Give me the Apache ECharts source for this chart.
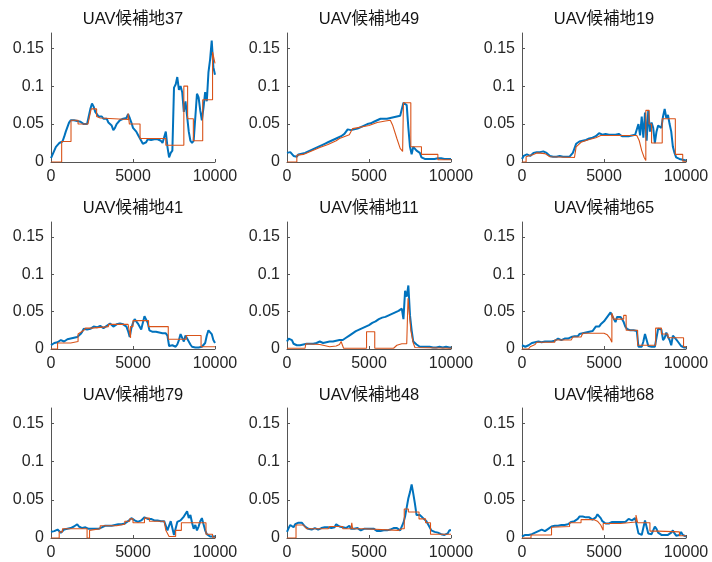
<!DOCTYPE html>
<html>
<head>
<meta charset="utf-8">
<script src="https://cdn.jsdelivr.net/npm/echarts@6/dist/echarts.min.js"></script>
<style>
  html, body { margin: 0; padding: 0; background: #fff; }
  #chart { width: 712px; height: 562px; }
</style>
</head>
<body>
<div id="chart"></div>
<script>
// Panel titles, in row order
const titles = ['UAV候補地37', 'UAV候補地49', 'UAV候補地19',
                'UAV候補地41', 'UAV候補地11', 'UAV候補地65',
                'UAV候補地79', 'UAV候補地48', 'UAV候補地68'];

const xTicks = [0, 5000, 10000];
const yTicks = [0, 0.05, 0.1, 0.15];
const sampleStep = 100; // measured series: one value every 100 steps, 0..10000

// Measured values (blue)
const meas37 = [0.005,0.010,0.015,0.020,0.022,0.025,0.025,0.027,0.033,0.040,0.046,0.052,0.055,0.057,0.055,0.057,0.054,0.056,0.053,0.052,0.050,0.048,0.050,0.060,0.070,0.077,0.073,0.066,0.063,0.060,0.058,0.060,0.057,0.055,0.057,0.052,0.053,0.048,0.042,0.045,0.050,0.052,0.055,0.053,0.057,0.055,0.058,0.063,0.058,0.052,0.045,0.043,0.040,0.036,0.032,0.028,0.024,0.022,0.026,0.030,0.032,0.029,0.031,0.030,0.031,0.030,0.029,0.028,0.025,0.023,0.040,0.020,0.006,0.012,0.015,0.098,0.102,0.112,0.095,0.100,0.092,0.066,0.080,0.060,0.040,0.028,0.025,0.028,0.026,0.090,0.085,0.068,0.055,0.072,0.092,0.080,0.118,0.135,0.160,0.125,0.115];
const meas49 = [0.012,0.013,0.013,0.011,0.008,0.006,0.007,0.010,0.010,0.011,0.011,0.012,0.013,0.014,0.015,0.016,0.017,0.018,0.019,0.020,0.021,0.022,0.023,0.024,0.025,0.026,0.027,0.028,0.029,0.030,0.031,0.032,0.033,0.034,0.035,0.037,0.040,0.043,0.045,0.042,0.042,0.043,0.044,0.044,0.045,0.046,0.047,0.048,0.049,0.050,0.050,0.051,0.052,0.053,0.054,0.055,0.056,0.057,0.056,0.057,0.056,0.057,0.057,0.058,0.058,0.059,0.060,0.060,0.061,0.061,0.062,0.078,0.077,0.075,0.045,0.020,0.010,0.020,0.018,0.015,0.017,0.012,0.006,0.005,0.004,0.005,0.004,0.005,0.004,0.005,0.004,0.004,0.005,0.004,0.005,0.004,0.004,0.005,0.004,0.004,0.004];
const meas19 = [0.004,0.008,0.010,0.010,0.009,0.008,0.009,0.012,0.014,0.013,0.015,0.013,0.012,0.014,0.015,0.012,0.010,0.008,0.007,0.007,0.008,0.007,0.007,0.008,0.007,0.007,0.006,0.007,0.006,0.007,0.008,0.012,0.018,0.024,0.026,0.027,0.029,0.028,0.030,0.029,0.030,0.031,0.030,0.032,0.033,0.034,0.036,0.038,0.037,0.036,0.035,0.037,0.038,0.036,0.035,0.036,0.035,0.036,0.035,0.037,0.036,0.034,0.035,0.034,0.035,0.034,0.035,0.035,0.034,0.036,0.035,0.050,0.035,0.060,0.032,0.065,0.028,0.068,0.040,0.052,0.045,0.025,0.040,0.048,0.050,0.045,0.060,0.070,0.058,0.062,0.050,0.040,0.020,0.012,0.006,0.005,0.004,0.003,0.003,0.002,0.002];
const meas41 = [0.005,0.006,0.008,0.010,0.009,0.011,0.012,0.011,0.010,0.012,0.013,0.012,0.014,0.013,0.015,0.014,0.016,0.018,0.020,0.023,0.027,0.028,0.026,0.025,0.027,0.029,0.030,0.031,0.029,0.030,0.031,0.029,0.028,0.030,0.031,0.032,0.034,0.033,0.030,0.031,0.033,0.035,0.034,0.036,0.033,0.032,0.030,0.024,0.016,0.028,0.035,0.040,0.037,0.034,0.030,0.026,0.035,0.044,0.043,0.035,0.025,0.024,0.023,0.022,0.023,0.022,0.022,0.022,0.021,0.022,0.021,0.018,0.004,0.003,0.005,0.004,0.003,0.006,0.012,0.020,0.019,0.010,0.018,0.020,0.010,0.006,0.003,0.002,0.002,0.003,0.002,0.002,0.003,0.004,0.008,0.018,0.025,0.024,0.020,0.012,0.008];
const meas11 = [0.010,0.014,0.015,0.012,0.007,0.006,0.005,0.006,0.005,0.005,0.006,0.006,0.007,0.007,0.007,0.008,0.007,0.008,0.008,0.009,0.010,0.008,0.008,0.009,0.009,0.009,0.010,0.010,0.010,0.011,0.011,0.012,0.012,0.012,0.012,0.013,0.015,0.017,0.018,0.020,0.021,0.023,0.024,0.025,0.026,0.027,0.028,0.029,0.030,0.031,0.032,0.034,0.035,0.036,0.037,0.038,0.040,0.041,0.042,0.043,0.043,0.044,0.045,0.046,0.047,0.048,0.049,0.050,0.051,0.053,0.054,0.040,0.078,0.070,0.085,0.045,0.025,0.010,0.012,0.006,0.004,0.003,0.003,0.003,0.002,0.003,0.002,0.003,0.002,0.002,0.003,0.002,0.002,0.003,0.002,0.002,0.002,0.003,0.002,0.002,0.002];
const meas65 = [0.005,0.004,0.003,0.004,0.005,0.006,0.008,0.008,0.009,0.010,0.010,0.009,0.009,0.010,0.010,0.009,0.010,0.011,0.010,0.011,0.011,0.012,0.014,0.013,0.012,0.013,0.014,0.013,0.014,0.015,0.016,0.015,0.017,0.018,0.017,0.020,0.022,0.021,0.020,0.022,0.021,0.023,0.025,0.024,0.027,0.030,0.031,0.030,0.033,0.035,0.037,0.040,0.043,0.046,0.049,0.050,0.040,0.036,0.043,0.045,0.043,0.040,0.036,0.030,0.027,0.025,0.025,0.024,0.025,0.026,0.024,0.003,0.002,0.003,0.010,0.020,0.012,0.004,0.003,0.003,0.002,0.003,0.004,0.027,0.028,0.026,0.012,0.015,0.022,0.016,0.012,0.005,0.018,0.020,0.013,0.010,0.008,0.004,0.003,0.002,0.002];
const meas79 = [0.008,0.008,0.009,0.010,0.011,0.010,0.007,0.008,0.011,0.012,0.012,0.013,0.013,0.014,0.015,0.017,0.018,0.015,0.014,0.013,0.013,0.014,0.013,0.012,0.013,0.012,0.013,0.012,0.011,0.012,0.013,0.014,0.015,0.016,0.017,0.016,0.015,0.016,0.017,0.017,0.017,0.018,0.017,0.018,0.018,0.019,0.020,0.022,0.024,0.026,0.025,0.023,0.022,0.021,0.022,0.023,0.025,0.027,0.026,0.025,0.024,0.025,0.024,0.023,0.024,0.023,0.022,0.022,0.021,0.022,0.020,0.010,0.008,0.022,0.022,0.004,0.003,0.021,0.022,0.023,0.022,0.028,0.030,0.035,0.026,0.030,0.020,0.012,0.017,0.010,0.015,0.022,0.026,0.018,0.010,0.005,0.003,0.002,0.002,0.002,0.002];
const meas48 = [0.008,0.013,0.017,0.016,0.014,0.018,0.019,0.020,0.019,0.020,0.018,0.015,0.013,0.012,0.013,0.011,0.012,0.013,0.012,0.011,0.012,0.013,0.012,0.014,0.015,0.014,0.016,0.013,0.012,0.014,0.018,0.016,0.015,0.016,0.014,0.015,0.013,0.014,0.016,0.012,0.010,0.012,0.011,0.013,0.011,0.010,0.011,0.012,0.013,0.012,0.013,0.012,0.011,0.012,0.010,0.009,0.010,0.009,0.008,0.010,0.011,0.010,0.012,0.011,0.012,0.013,0.012,0.013,0.011,0.010,0.012,0.020,0.028,0.040,0.052,0.060,0.070,0.058,0.045,0.030,0.028,0.030,0.032,0.026,0.024,0.022,0.018,0.014,0.010,0.008,0.008,0.009,0.007,0.006,0.005,0.006,0.004,0.005,0.006,0.010,0.010];
const meas68 = [0.002,0.003,0.004,0.005,0.004,0.003,0.005,0.006,0.007,0.008,0.009,0.010,0.011,0.010,0.009,0.011,0.012,0.013,0.015,0.014,0.016,0.017,0.016,0.018,0.017,0.016,0.017,0.016,0.018,0.019,0.021,0.020,0.022,0.024,0.025,0.028,0.029,0.028,0.030,0.027,0.025,0.027,0.028,0.024,0.023,0.027,0.031,0.030,0.026,0.022,0.020,0.019,0.020,0.019,0.020,0.021,0.020,0.021,0.022,0.021,0.022,0.021,0.020,0.021,0.023,0.025,0.024,0.023,0.024,0.026,0.025,0.006,0.005,0.004,0.005,0.023,0.024,0.006,0.004,0.005,0.004,0.015,0.012,0.007,0.005,0.004,0.005,0.004,0.005,0.004,0.005,0.007,0.010,0.006,0.003,0.003,0.004,0.008,0.004,0.002,0.002];

// Estimated values (orange), as [step, value] vertices of the step curve
const est37 = [[0,0],[650,0],[650,0.027],[1220,0.027],[1220,0.055],[1650,0.055],[1650,0.05],[2250,0.05],[2450,0.07],[2780,0.07],[2780,0.06],[3000,0.058],[3000,0.056],[4700,0.056],[4700,0.064],[4780,0.064],[4780,0.05],[5430,0.05],[5430,0.031],[7000,0.031],[7000,0.022],[8100,0.022],[8100,0.1],[8330,0.1],[8330,0.057],[8680,0.057],[8680,0.028],[9250,0.028],[9250,0.082],[9850,0.082],[9850,0.145],[10000,0.13]];
const est49 = [[0,0],[600,0],[600,0.009],[1000,0.010],[2000,0.019],[2500,0.023],[3000,0.028],[3200,0.031],[3800,0.036],[4000,0.044],[5000,0.048],[5500,0.052],[6000,0.054],[6300,0.055],[6450,0.048],[6700,0.031],[6900,0.018],[7050,0.014],[7100,0.014],[7100,0.078],[7550,0.078],[7550,0.02],[8200,0.02],[8200,0.01],[9200,0.01],[9200,0.003],[10000,0.003]];
const est19 = [[0,0],[250,0],[250,0.007],[700,0.010],[900,0.012],[1400,0.011],[1700,0.007],[3200,0.006],[3300,0.02],[3600,0.026],[4000,0.029],[4500,0.032],[4800,0.035],[7000,0.035],[7150,0.028],[7300,0.015],[7450,0.006],[7550,0.002],[7550,0.068],[7750,0.068],[7750,0.05],[7900,0.05],[7900,0.025],[8550,0.025],[8550,0.057],[9350,0.057],[9350,0.01],[9800,0.01],[9800,0.001],[10000,0.001]];
const est41 = [[0,0],[400,0],[400,0.008],[1200,0.008],[1200,0.01],[1650,0.01],[1650,0.02],[2000,0.025],[2100,0.028],[2500,0.028],[2600,0.03],[3500,0.03],[3500,0.033],[4700,0.033],[4850,0.015],[4850,0.03],[5000,0.03],[5000,0.038],[5950,0.038],[5950,0.03],[7150,0.03],[7150,0.013],[8250,0.013],[8250,0.018],[9150,0.018],[9150,0.003],[10000,0.003]];
const est11 = [[0,0.001],[1100,0.001],[1150,0.007],[2000,0.006],[2600,0.003],[3000,0.004],[3200,0.006],[3300,0.010],[3400,0.010],[3450,0.001],[4850,0.001],[4850,0.023],[5350,0.023],[5350,0.001],[6500,0.001],[6700,0.005],[7000,0.007],[7300,0.007],[7380,0.068],[7450,0.05],[7550,0.025],[7700,0.008],[7800,0.002],[10000,0.001]];
const est65 = [[0,0],[400,0],[500,0.003],[800,0.006],[900,0.009],[2000,0.009],[2000,0.012],[3000,0.012],[3100,0.016],[3600,0.016],[3700,0.021],[5000,0.021],[5200,0.019],[5350,0.015],[5480,0.009],[5480,0.048],[5600,0.048],[5600,0.04],[6200,0.04],[6200,0.045],[6350,0.045],[6350,0.025],[7050,0.025],[7050,0.005],[8150,0.005],[8150,0.028],[8500,0.028],[8500,0.02],[8900,0.02],[8900,0.015],[9850,0.015],[9850,0.003],[10000,0.003]];
const est79 = [[0,0],[500,0],[500,0.008],[700,0.008],[700,0.012],[2200,0.012],[2200,0],[2350,0],[2350,0.01],[3000,0.012],[3000,0.016],[4000,0.016],[4000,0.018],[4500,0.018],[4500,0.022],[4800,0.022],[4800,0.025],[5000,0.025],[5000,0.020],[5700,0.020],[5700,0.026],[6000,0.026],[6000,0.022],[6900,0.022],[7000,0.01],[7200,0.002],[7600,0.002],[7600,0.01],[7950,0.01],[7950,0.02],[9450,0.02],[9450,0.005],[9850,0.005],[9850,0.001],[10000,0.001]];
const est48 = [[0,0],[550,0],[550,0.017],[1000,0.017],[1200,0.012],[2500,0.012],[2600,0.015],[3400,0.015],[3400,0.012],[3900,0.012],[3950,0.02],[4000,0.012],[4700,0.012],[4700,0.01],[6800,0.01],[7000,0.012],[7150,0.012],[7150,0.038],[7400,0.038],[7400,0.034],[8050,0.034],[8050,0.025],[8450,0.025],[8450,0.02],[8750,0.02],[8750,0.005],[10000,0.005]];
const est68 = [[0,0],[550,0],[550,0.004],[1800,0.004],[1800,0.014],[2900,0.015],[2900,0.02],[3600,0.02],[3600,0.024],[4400,0.024],[4600,0.022],[4800,0.017],[4950,0.01],[4950,0.019],[6000,0.019],[6000,0.02],[6950,0.021],[6950,0.03],[7050,0.03],[7050,0.02],[7800,0.02],[7800,0.009],[8300,0.009],[8300,0.008],[9600,0.008],[9600,0.003],[10000,0.003]];

const measured = [meas37, meas49, meas19, meas41, meas11, meas65, meas79, meas48, meas68];
const estimated = [est37, est49, est19, est41, est11, est65, est79, est48, est68];

// Layout of the 3x3 subplot grid (pixels)
const colLeft = [51, 287, 522];
const plotW = 164;
const rowTop = [33, 222, 408];
const rowH = [129, 127, 130];
const titleY = [11, 200, 387];

const FONT = 'Liberation Sans, "Noto Sans CJK JP", sans-serif';
const BLUE = '#0072BD';
const ORANGE = '#D95319';
const AXIS = '#555555';
const TEXT = '#262626';

const grids = [], xAxes = [], yAxes = [], series = [], titleOpts = [];

for (let k = 0; k < 9; k++) {
  const r = Math.floor(k / 3), c = k % 3;
  grids.push({ left: colLeft[c], top: rowTop[r], width: plotW, height: rowH[r], containLabel: false });
  titleOpts.push({
    text: titles[k],
    left: colLeft[c] + plotW / 2,
    top: titleY[r],
    textAlign: 'center',
    padding: 0,
    textStyle: { fontFamily: FONT, fontSize: 16.5, fontWeight: 'normal', color: '#141414' }
  });
  xAxes.push({
    type: 'value', gridIndex: k, min: 0, max: 10000,
    axisLine: { show: true, onZero: false, lineStyle: { color: AXIS, width: 1 } },
    axisTick: { show: true, inside: true, length: 3, customValues: xTicks, lineStyle: { color: AXIS } },
    axisLabel: { customValues: xTicks, fontFamily: FONT, fontSize: 16, color: TEXT, margin: 7, formatter: v => String(v) },
    splitLine: { show: false }
  });
  yAxes.push({
    type: 'value', gridIndex: k, min: 0, max: 0.17,
    axisLine: { show: true, onZero: false, lineStyle: { color: AXIS, width: 1 } },
    axisTick: { show: true, inside: true, length: 3, customValues: yTicks, lineStyle: { color: AXIS } },
    axisLabel: { customValues: yTicks, fontFamily: FONT, fontSize: 16, color: TEXT, margin: 7, formatter: v => String(+v.toFixed(2)) },
    splitLine: { show: false }
  });
  series.push({
    type: 'line', xAxisIndex: k, yAxisIndex: k,
    data: measured[k].map((v, i) => [i * sampleStep, v]),
    showSymbol: false, silent: true, animation: false,
    lineStyle: { color: BLUE, width: 2 }
  });
  series.push({
    type: 'line', xAxisIndex: k, yAxisIndex: k,
    data: estimated[k],
    showSymbol: false, silent: true, animation: false,
    lineStyle: { color: ORANGE, width: 1.1 }
  });
}

const chart = echarts.init(document.getElementById('chart'), null, { renderer: 'canvas' });
chart.setOption({
  backgroundColor: '#ffffff',
  animation: false,
  title: titleOpts,
  grid: grids,
  xAxis: xAxes,
  yAxis: yAxes,
  series: series
});
</script>
</body>
</html>
